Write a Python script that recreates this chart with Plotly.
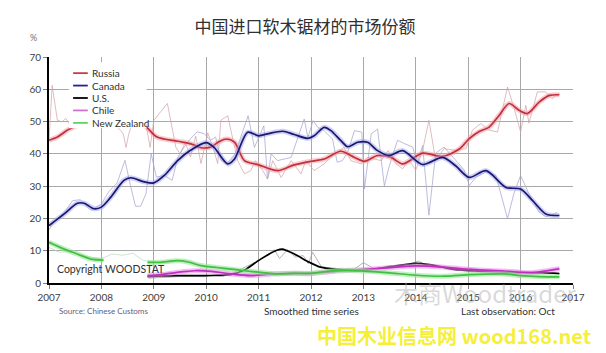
import plotly.graph_objects as go

# ---------------- data ----------------
series_names = ["Russia", "Canada", "U.S.", "Chile", "New Zealand"]
series_colors = ["#c0303a", "#18186e", "#000000", "#c030c0", "#40c040"]
legend_colors = ["#c04048", "#2020a0", "#000000", "#d070d0", "#60d060"]

russia_x = [2007.0, 2007.16, 2007.38, 2007.7, 2008.1, 2008.5, 2008.82, 2009.06, 2009.46, 2009.71, 2009.9,
            2010.08, 2010.25, 2010.38, 2010.54, 2010.73, 2011.0, 2011.36, 2011.68, 2012.0, 2012.25, 2012.57,
            2012.83, 2013.02, 2013.27, 2013.53, 2013.75, 2014.13, 2014.51, 2014.83, 2015.02, 2015.21, 2015.4,
            2015.59, 2015.78, 2015.97, 2016.13, 2016.36, 2016.55, 2016.74]
russia_y = [44.2, 45.2, 47.6, 49.5, 50.5, 50.0, 48.8, 45.2, 43.9, 43.1, 41.9,
            42.1, 43.8, 44.6, 43.6, 37.9, 36.6, 34.8, 36.6, 37.7, 38.4, 40.8,
            38.9, 37.7, 39.5, 38.9, 36.9, 40.2, 39.2, 41.5, 44.7, 46.9, 48.3,
            51.9, 55.6, 53.5, 52.5, 56.1, 58.1, 58.3]

canada_x = [2007.0, 2007.29, 2007.54, 2007.67, 2007.86, 2008.0, 2008.18, 2008.43, 2008.56, 2008.82, 2009.0,
            2009.2, 2009.46, 2009.7, 2010.0, 2010.15, 2010.41, 2010.54, 2010.79, 2011.0, 2011.17, 2011.46,
            2011.68, 2011.94, 2012.06, 2012.25, 2012.38, 2012.57, 2012.7, 2012.89, 2013.08, 2013.27, 2013.49,
            2013.75, 2014.13, 2014.51, 2014.76, 2015.02, 2015.34, 2015.72, 2016.0, 2016.23, 2016.48, 2016.74]
canada_y = [17.8, 21.4, 24.7, 24.7, 23.0, 23.5, 26.6, 31.8, 32.6, 31.3, 31.0,
            33.3, 38.0, 41.1, 43.5, 42.0, 36.9, 38.4, 46.7, 45.6, 46.2, 47.0,
            46.0, 44.8, 45.6, 48.2, 47.2, 44.1, 42.2, 43.6, 43.6, 41.0, 39.5,
            41.0, 36.7, 38.9, 36.3, 32.7, 34.8, 29.6, 29.1, 25.5, 21.4, 20.9]

us_x = [2008.88, 2009.45, 2009.96, 2010.47, 2010.73, 2011.04, 2011.36, 2011.45, 2011.68, 2011.97, 2012.18,
        2012.5, 2013.0, 2013.46, 2014.0, 2014.29, 2014.73, 2015.18, 2015.6, 2016.0, 2016.4, 2016.74]
us_y = [2.0, 2.3, 2.3, 2.6, 4.0, 7.4, 10.2, 10.5, 9.0, 6.4, 4.9,
        4.2, 3.9, 4.9, 6.1, 5.6, 4.2, 3.7, 3.5, 3.2, 3.2, 2.9]

chile_x = [2008.88, 2009.14, 2009.45, 2009.77, 2010.1, 2010.47, 2010.85, 2011.23, 2011.68, 2011.97, 2012.5,
           2013.0, 2013.46, 2014.0, 2014.54, 2015.05, 2015.69, 2016.2, 2016.45, 2016.74]
chile_y = [2.3, 2.6, 3.3, 3.8, 3.6, 2.8, 2.3, 2.8, 3.0, 2.9, 3.7,
           4.2, 4.7, 5.3, 4.9, 4.2, 3.7, 3.2, 3.7, 4.4]

nz_x = [2007.0, 2007.29, 2007.54, 2007.8, 2008.04, 2008.5, 2008.88, 2009.1, 2009.45, 2009.65, 2009.9,
        2010.2, 2010.47, 2010.73, 2011.04, 2011.36, 2011.68, 2011.97, 2012.5, 2013.0, 2013.46, 2014.0,
        2014.54, 2015.05, 2015.69, 2016.0, 2016.35, 2016.74]
nz_y = [12.6, 10.5, 9.0, 7.4, 7.1, None, 6.4, 6.4, 6.9, 6.5, 5.4,
        4.8, 4.3, 3.8, 3.3, 2.8, 3.0, 3.0, 3.9, 3.7, 3.2, 2.4,
        2.1, 2.6, 2.8, 2.3, 2.0, 1.9]

# raw (unsmoothed) monthly-ish observations
russia_raw_x = [2007.0, 2007.06, 2007.16, 2007.25, 2007.32, 2007.38, 2007.6, 2007.9, 2008.2, 2008.38, 2008.42,
                2008.47, 2008.52, 2008.6, 2008.85, 2008.93, 2009.0, 2009.26, 2009.42, 2009.5, 2009.6, 2009.7,
                2009.8, 2009.9, 2010.03, 2010.13, 2010.22, 2010.28, 2010.41, 2010.6, 2010.73, 2010.85, 2010.94,
                2011.08, 2011.17, 2011.27, 2011.43, 2011.62, 2011.81, 2011.9, 2012.06, 2012.25, 2012.44, 2012.63,
                2012.76, 2012.96, 2013.08, 2013.34, 2013.47, 2013.62, 2013.75, 2013.87, 2014.0, 2014.13, 2014.25,
                2014.38, 2014.54, 2014.76, 2014.96, 2015.08, 2015.24, 2015.4, 2015.56, 2015.75, 2015.87, 2016.0,
                2016.1, 2016.16, 2016.32, 2016.48, 2016.6, 2016.74]
russia_raw_y = [44.0, 61.2, 50.4, 49.9, 51.0, 49.4, 52.0, 51.0, 50.0, 47.0, 46.0,
                42.0, 46.0, 50.0, 49.0, 42.0, 50.4, 55.6, 42.1, 40.0, 43.5, 39.0,
                45.5, 37.0, 46.5, 42.0, 37.0, 50.4, 51.8, 37.9, 33.8, 34.8, 37.9,
                34.8, 32.2, 37.9, 32.7, 37.9, 33.8, 37.9, 34.8, 36.9, 39.8, 42.0,
                37.9, 36.9, 38.9, 37.9, 41.0, 36.9, 35.4, 38.0, 35.0, 41.1, 50.4,
                38.0, 41.6, 41.1, 41.6, 47.3, 49.4, 47.3, 46.8, 60.7, 54.5, 46.8,
                55.0, 49.5, 59.2, 59.2, 57.1, 58.7]

canada_raw_x = [2007.0, 2007.1, 2007.3, 2007.45, 2007.6, 2007.8, 2008.0, 2008.15, 2008.3, 2008.45, 2008.55,
                2008.65, 2008.75, 2008.85, 2008.95, 2009.05, 2009.2, 2009.35, 2009.46, 2009.58, 2009.7, 2009.83,
                2009.96, 2010.08, 2010.18, 2010.28, 2010.4, 2010.55, 2010.8, 2010.92, 2011.1, 2011.17, 2011.24,
                2011.36, 2011.62, 2011.87, 2011.94, 2012.04, 2012.13, 2012.25, 2012.41, 2012.5, 2012.6, 2012.7,
                2012.83, 2012.97, 2013.02, 2013.15, 2013.27, 2013.4, 2013.49, 2013.65, 2013.78, 2013.94, 2014.03,
                2014.13, 2014.25, 2014.38, 2014.54, 2014.76, 2014.92, 2015.02, 2015.15, 2015.34, 2015.53, 2015.75,
                2015.87, 2016.0, 2016.16, 2016.35, 2016.48, 2016.6, 2016.7]
canada_raw_y = [16.5, 19.0, 22.0, 25.5, 25.8, 22.5, 24.5, 28.5, 31.0, 38.0, 30.5,
                23.8, 23.8, 27.6, 40.0, 32.8, 33.3, 31.8, 39.0, 42.1, 44.7, 46.8,
                46.3, 44.2, 45.2, 38.0, 37.0, 40.0, 51.8, 42.0, 48.7, 32.2, 40.0,
                37.9, 38.9, 50.8, 45.1, 50.3, 48.2, 47.2, 44.6, 37.4, 37.9, 40.5,
                47.2, 46.7, 29.1, 46.2, 47.7, 30.1, 36.0, 44.2, 43.2, 42.1, 37.0,
                42.6, 21.0, 40.2, 42.1, 38.2, 35.1, 30.2, 32.8, 34.4, 33.3, 19.9,
                27.6, 33.3, 27.6, 22.0, 20.5, 21.0, 22.0]

us_raw_x = [2008.9, 2009.5, 2010.0, 2010.5, 2010.75, 2010.95, 2011.1, 2011.3, 2011.4, 2011.55, 2011.7,
            2011.85, 2011.95, 2012.03, 2012.2, 2012.8, 2013.0, 2013.2, 2013.8, 2014.05, 2014.2, 2015.0,
            2016.0, 2016.74]
us_raw_y = [1.5, 2.0, 2.0, 3.0, 5.0, 6.5, 8.0, 10.3, 7.6, 10.3, 8.0,
            8.5, 6.0, 9.5, 5.0, 4.0, 6.3, 4.5, 5.5, 6.8, 5.5, 3.8,
            3.0, 3.0]

chile_raw_x = [2008.9, 2009.3, 2009.6, 2009.9, 2010.3, 2010.7, 2011.2, 2011.7, 2012.2, 2012.7, 2013.1,
               2013.5, 2013.9, 2014.3, 2014.7, 2015.1, 2015.5, 2015.9, 2016.3, 2016.74]
chile_raw_y = [2.0, 3.4, 3.2, 4.3, 3.2, 2.7, 2.2, 3.4, 3.2, 4.4, 3.8,
               5.4, 4.8, 5.8, 4.6, 4.6, 3.4, 4.0, 3.0, 4.8]

nz_raw_x = [2007.0, 2007.2, 2007.4, 2007.6, 2007.8, 2008.0, 2008.2, 2008.4, 2008.6, 2008.8, 2009.2,
            2009.6, 2010.0, 2010.5, 2011.0, 2011.5, 2012.0, 2012.5, 2013.0, 2013.5, 2014.0, 2014.5,
            2015.0, 2015.5, 2016.0, 2016.74]
nz_raw_y = [11.0, 9.5, 9.8, 8.5, 8.0, 7.5, 9.0, 8.6, 9.2, 7.0, 6.0,
            7.2, 5.0, 4.6, 3.0, 2.6, 3.2, 4.2, 3.4, 3.0, 2.6, 2.0,
            2.8, 2.6, 2.2, 1.8]

x_ticks = list(range(2007, 2018))
y_ticks = list(range(0, 80, 10))

title_text = "中国进口软木锯材的市场份额"

# ---------------- figure ----------------
fig = go.Figure()

raw_sets = [(russia_raw_x, russia_raw_y, "rgba(210,160,165,0.7)"),
            (canada_raw_x, canada_raw_y, "rgba(165,165,210,0.75)"),
            (us_raw_x, us_raw_y, "rgba(150,150,150,0.7)"),
            (chile_raw_x, chile_raw_y, "rgba(225,150,225,0.7)"),
            (nz_raw_x, nz_raw_y, "rgba(170,210,170,0.6)")]
for rx, ry, rc in raw_sets:
    fig.add_trace(go.Scatter(x=rx, y=ry, mode="lines", line=dict(color=rc, width=1),
                             showlegend=False, hoverinfo="skip"))

smooth_sets = [(russia_x, russia_y, "rgba(245,160,170,0.55)"),
               (canada_x, canada_y, "rgba(160,160,240,0.5)"),
               (us_x, us_y, None),
               (chile_x, chile_y, "rgba(235,140,235,0.55)"),
               (nz_x, nz_y, "rgba(150,230,150,0.6)")]
for (sx, sy, glow), name, col in zip(smooth_sets, series_names, series_colors):
    if glow:
        fig.add_trace(go.Scatter(x=sx, y=sy, mode="lines",
                                 line=dict(color=glow, width=5, shape="spline", smoothing=0.8),
                                 showlegend=False, hoverinfo="skip"))
    fig.add_trace(go.Scatter(x=sx, y=sy, mode="lines", name=name,
                             line=dict(color=col, width=1.7, shape="spline", smoothing=0.8),
                             showlegend=False))

# custom compact legend (white box hiding the lines beneath, as in the original)
shapes = [dict(type="rect", xref="x", yref="y", x0=2007.38, x1=2008.86, y0=47.9, y1=68.4,
               fillcolor="white", line=dict(width=0), layer="above")]
annotations = []
for i, (name, col) in enumerate(zip(series_names, legend_colors)):
    yv = 65.0 - i * 3.85
    shapes.append(dict(type="line", xref="x", yref="y", x0=2007.46, x1=2007.74, y0=yv, y1=yv,
                       line=dict(color=col, width=1.8), layer="above"))
    annotations.append(dict(x=2007.78, y=yv, xref="x", yref="y", text=name, showarrow=False,
                            xanchor="left", yanchor="middle",
                            font=dict(family="Lato, sans-serif", size=10, color="#303030")))

annotations += [
    dict(x=2007.12, y=4.3, xref="x", yref="y", text="Copyright WOODSTAT", showarrow=False,
         xanchor="left", yanchor="middle",
         font=dict(family="Lato, sans-serif", size=10.5, color="#303030")),
    dict(x=(33 - 49) / 524, y=1.088, xref="paper", yref="paper", text="%", showarrow=False,
         xanchor="center", yanchor="middle", font=dict(family="Lato, sans-serif", size=9, color="#707070")),
    dict(x=(57 - 49) / 524, y=-0.124, xref="paper", yref="paper", text="Source: Chinese Customs",
         showarrow=False, xanchor="left", yanchor="middle",
         font=dict(family="Lato, sans-serif", size=8, color="#606080")),
    dict(x=(311 - 49) / 524, y=-0.124, xref="paper", yref="paper", text="Smoothed time series",
         showarrow=False, xanchor="center", yanchor="middle",
         font=dict(family="Lato, sans-serif", size=10, color="#303030")),
    dict(x=(459 - 49) / 524, y=-0.124, xref="paper", yref="paper", text="Last observation: Oct",
         showarrow=False, xanchor="left", yanchor="middle",
         font=dict(family="Lato, sans-serif", size=10, color="#303030")),
    dict(x=(485 - 49) / 524, y=-0.04, xref="paper", yref="paper", text="木商Woodtrader",
         showarrow=False, xanchor="center", yanchor="middle",
         font=dict(family="Noto Sans CJK SC, sans-serif", size=24, color="rgba(170,170,170,0.45)")),
    dict(x=(594 - 49) / 524, y=-0.232, xref="paper", yref="paper", text="<b>中国木业信息网 wood168.net</b>",
         showarrow=False, xanchor="right", yanchor="middle",
         font=dict(family="Noto Sans CJK SC, sans-serif", size=20, color="#f6ef3a")),
]

fig.update_layout(
    width=606, height=353,
    margin=dict(l=49, r=33, t=57, b=70),
    paper_bgcolor="white", plot_bgcolor="white",
    title=dict(text=title_text, x=305 / 606, xanchor="center", y=1 - 27 / 353, yanchor="middle",
               font=dict(family="Noto Sans CJK SC, sans-serif", size=17, color="#303030")),
    xaxis=dict(range=[2007, 2017], tickvals=x_ticks, ticktext=[str(t) for t in x_ticks],
               showgrid=True, gridcolor="#a8a8a8", gridwidth=1, zeroline=False,
               showline=True, linecolor="black", linewidth=2, ticks="outside", ticklen=4,
               tickcolor="#808080", tickfont=dict(family="Lato, sans-serif", size=10, color="#404040")),
    yaxis=dict(range=[0, 70], tickvals=y_ticks, showgrid=True, gridcolor="#a8a8a8", gridwidth=1,
               zeroline=False, showline=True, linecolor="black", linewidth=2, ticks="outside",
               ticklen=4, tickcolor="#808080",
               tickfont=dict(family="Lato, sans-serif", size=10, color="#404040")),
    shapes=shapes, annotations=annotations, showlegend=False,
)

fig.write_html("out.html")
